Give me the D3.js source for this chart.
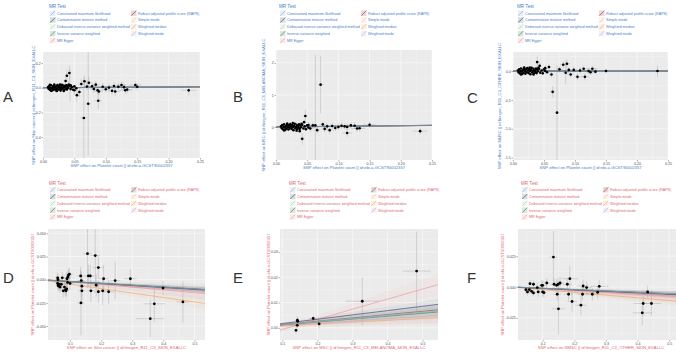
<!DOCTYPE html>
<html>
<head>
<meta charset="utf-8">
<script src="https://cdn.jsdelivr.net/npm/d3@7"></script>
<style>
  body { margin: 0; background: #fff; }
  svg { display: block; font-family: "Liberation Sans", Arial, sans-serif; }
</style>
</head>
<body>
<svg id="fig" width="676" height="354"></svg>
<script>
// MR methods shown in every legend (ggplot order, 2 columns)
const methods = [
  "Constrained maximum likelihood",
  "Contamination mixture method",
  "Debiased inverse-variance weighted method",
  "Inverse variance weighted",
  "MR Egger",
  "Robust adjusted profile score (RAPS)",
  "Simple mode",
  "Weighted median",
  "Weighted mode"
];
const methodColors = ["#7fa6cc", "#2d3b6b", "#a3d09c", "#2f7a4f", "#ef8c8f", "#8c2a2a", "#f6b89c", "#f2a05a", "#bba6d8"];

// dense SNP clusters (forward MR, platelet count -> skin cancers)
const clusterA = [[0.008,0.005],[0.009,-0.008],[0.010,0.014],[0.011,-0.017],[0.012,0.002],[0.013,0.020],[0.014,-0.005],[0.015,-0.021],[0.016,0.009],[0.017,-0.012],[0.018,0.017],[0.019,0.000],[0.020,-0.019],[0.021,0.012],[0.022,-0.008],[0.023,0.022],[0.024,0.004],[0.025,-0.015],[0.026,0.015],[0.027,-0.003],[0.028,-0.023],[0.029,0.008],[0.030,0.023],[0.031,-0.011],[0.032,0.001],[0.033,0.017],[0.034,-0.018],[0.035,0.007],[0.036,-0.006],[0.037,0.019],[0.038,-0.014],[0.039,0.011],[0.040,-0.002],[0.042,0.016],[0.044,-0.011],[0.046,0.005],[0.048,-0.016],[0.050,0.012],[0.013,-0.025],[0.018,0.025],[0.027,0.026],[0.033,-0.026],[0.041,0.024],[0.011,0.024],[0.022,-0.027],[0.053,-0.004],[0.016,-0.001],[0.029,-0.009],[0.036,0.012],[0.044,0.020]];
const clusterB = [[0.008,0.02],[0.009,-0.03],[0.010,0.06],[0.011,-0.07],[0.012,0.01],[0.013,0.08],[0.014,-0.02],[0.015,-0.09],[0.016,0.04],[0.017,-0.05],[0.018,0.07],[0.019,0.00],[0.020,-0.08],[0.021,0.05],[0.022,-0.03],[0.023,0.09],[0.024,0.02],[0.025,-0.06],[0.026,0.06],[0.027,-0.01],[0.028,-0.10],[0.029,0.03],[0.030,0.10],[0.031,-0.04],[0.032,0.00],[0.033,0.07],[0.034,-0.07],[0.035,0.03],[0.036,-0.02],[0.037,0.08],[0.038,-0.06],[0.039,0.05],[0.040,-0.01],[0.042,0.07],[0.044,-0.05],[0.046,0.02],[0.048,-0.07],[0.050,0.05],[0.013,-0.11],[0.018,0.11],[0.027,0.12],[0.033,-0.12],[0.041,0.10],[0.045,0.15],[0.038,-0.13],[0.052,-0.02]];
const clusterC = [[0.008,0.01],[0.009,-0.02],[0.010,0.03],[0.011,-0.04],[0.012,0.00],[0.013,0.045],[0.014,-0.01],[0.015,-0.05],[0.016,0.02],[0.017,-0.03],[0.018,0.04],[0.019,0.00],[0.020,-0.045],[0.021,0.03],[0.022,-0.02],[0.023,0.05],[0.024,0.01],[0.025,-0.035],[0.026,0.035],[0.027,-0.005],[0.028,-0.055],[0.029,0.02],[0.030,0.055],[0.031,-0.025],[0.032,0.00],[0.033,0.04],[0.034,-0.04],[0.035,0.015],[0.036,-0.015],[0.037,0.045],[0.038,-0.035],[0.039,0.025],[0.040,-0.005],[0.042,0.04],[0.044,-0.03],[0.046,0.01],[0.048,-0.04],[0.050,0.03],[0.013,-0.06],[0.018,0.06],[0.027,0.06],[0.033,-0.06],[0.041,0.055],[0.052,0.0],[0.055,-0.02]];

// SNPs with visible error bars: [beta exposure, beta outcome, se exposure, se outcome]
const snpA = [[0.036,0.055,0.003,0.03],[0.038,0.097,0.003,0.05],[0.042,0.120,0.003,0.06],[0.041,0.024,0.003,0.03],[0.043,0.020,0.003,0.13],[0.050,-0.020,0.004,0.04],[0.054,-0.060,0.004,0.05],[0.058,-0.035,0.004,0.04],[0.061,0.030,0.005,0.04],[0.066,0.053,0.005,0.05],[0.065,-0.245,0.005,0.33],[0.070,0.010,0.005,0.03],[0.073,0.040,0.005,0.05],[0.072,-0.130,0.005,0.42],[0.078,0.012,0.006,0.03],[0.081,-0.010,0.006,0.03],[0.084,0.025,0.006,0.03],[0.087,-0.020,0.006,0.03],[0.089,-0.030,0.006,0.03],[0.088,-0.105,0.006,0.07],[0.095,0.008,0.007,0.03],[0.100,-0.012,0.007,0.03],[0.105,0.001,0.007,0.03],[0.110,-0.025,0.007,0.03],[0.113,0.014,0.008,0.03],[0.115,-0.030,0.008,0.04],[0.120,0.008,0.008,0.03],[0.125,0.022,0.008,0.03],[0.129,0.005,0.009,0.03],[0.131,-0.020,0.009,0.03],[0.134,-0.015,0.009,0.03],[0.147,0.022,0.010,0.03],[0.150,0.008,0.010,0.03],[0.232,-0.021,0.012,0.04]];
const snpB = [[0.047,0.34,0.004,0.20],[0.042,-0.37,0.004,0.18],[0.063,0.05,0.004,2.2],[0.0715,1.32,0.005,0.9],[0.052,0.06,0.004,0.10],[0.055,-0.05,0.004,0.10],[0.059,0.05,0.005,0.10],[0.066,-0.10,0.005,0.10],[0.075,0.08,0.005,0.10],[0.078,-0.06,0.005,0.10],[0.082,0.02,0.006,0.10],[0.086,-0.10,0.006,0.10],[0.090,0.03,0.006,0.10],[0.095,-0.03,0.006,0.10],[0.100,0.00,0.007,0.10],[0.105,0.04,0.007,0.10],[0.110,0.02,0.007,0.10],[0.114,0.00,0.008,0.10],[0.114,-0.19,0.008,0.12],[0.120,0.05,0.008,0.10],[0.126,0.04,0.008,0.10],[0.130,-0.05,0.009,0.10],[0.134,-0.04,0.009,0.10],[0.150,0.07,0.010,0.10],[0.231,-0.13,0.012,0.10]];
const snpC = [[0.039,0.155,0.003,0.10],[0.043,0.09,0.003,0.06],[0.052,0.05,0.004,0.05],[0.058,0.07,0.004,0.05],[0.062,-0.06,0.004,0.05],[0.064,-0.36,0.004,0.10],[0.071,-0.72,0.004,0.82],[0.075,0.03,0.005,0.05],[0.081,0.11,0.005,0.06],[0.085,-0.03,0.005,0.20],[0.087,0.126,0.005,0.08],[0.090,0.02,0.005,0.05],[0.093,-0.06,0.006,0.05],[0.098,0.02,0.006,0.05],[0.104,-0.10,0.006,0.06],[0.108,0.01,0.006,0.05],[0.114,0.04,0.007,0.05],[0.116,-0.10,0.007,0.06],[0.122,0.00,0.007,0.05],[0.125,-0.02,0.007,0.05],[0.128,0.04,0.008,0.05],[0.133,-0.01,0.008,0.05],[0.150,0.00,0.010,0.04],[0.233,0.00,0.010,0.10]];
// reverse MR: skin cancers -> platelet count
const snpD = [[0.060,0.002,0.008,0.006],[0.061,0.000,0.008,0.006],[0.060,-0.004,0.007,0.006],[0.062,-0.006,0.008,0.006],[0.064,-0.007,0.008,0.006],[0.066,-0.005,0.008,0.006],[0.068,-0.008,0.008,0.006],[0.072,-0.005,0.009,0.006],[0.075,0.002,0.009,0.006],[0.078,-0.012,0.009,0.007],[0.082,-0.008,0.009,0.007],[0.085,-0.011,0.010,0.007],[0.087,-0.012,0.010,0.007],[0.089,-0.010,0.010,0.007],[0.090,0.001,0.010,0.007],[0.092,-0.003,0.010,0.007],[0.093,0.003,0.010,0.007],[0.095,0.005,0.010,0.007],[0.098,0.006,0.011,0.007],[0.100,-0.004,0.011,0.007],[0.134,0.004,0.012,0.010],[0.136,-0.001,0.012,0.010],[0.138,-0.007,0.012,0.012],[0.138,-0.012,0.012,0.012],[0.135,-0.025,0.012,0.035],[0.156,0.028,0.014,0.037],[0.159,0.004,0.013,0.012],[0.165,0.004,0.013,0.012],[0.167,-0.012,0.013,0.012],[0.181,0.026,0.015,0.030],[0.184,-0.006,0.014,0.012],[0.191,0.013,0.018,0.012],[0.191,-0.013,0.015,0.012],[0.205,-0.012,0.016,0.015],[0.208,0.001,0.016,0.015],[0.224,-0.013,0.016,0.013],[0.245,-0.001,0.016,0.020],[0.294,0.001,0.020,0.010],[0.358,-0.042,0.045,0.020],[0.371,-0.026,0.035,0.020],[0.399,-0.009,0.025,0.008],[0.463,-0.024,0.020,0.022]];
const snpE = [[0.139,-0.001,0.003,0.0012],[0.1425,0.001,0.003,0.0015],[0.143,0.003,0.004,0.0015],[0.144,0.0026,0.004,0.0018],[0.188,0.0037,0.010,0.0012],[0.205,0.0016,0.004,0.0018],[0.328,0.0105,0.047,0.0095],[0.483,0.0224,0.040,0.0155]];
const snpF = [[0.047,-0.0022,0.006,0.003],[0.052,-0.0040,0.006,0.003],[0.058,-0.0022,0.006,0.003],[0.060,0.0027,0.007,0.003],[0.065,-0.0035,0.007,0.003],[0.071,0.0022,0.007,0.003],[0.071,-0.0048,0.007,0.003],[0.083,-0.0005,0.008,0.004],[0.086,-0.0040,0.008,0.004],[0.097,0.0013,0.008,0.004],[0.100,0.0013,0.009,0.004],[0.100,-0.0040,0.009,0.004],[0.104,-0.0046,0.009,0.004],[0.113,0.0032,0.010,0.004],[0.134,0.0242,0.012,0.021],[0.136,0.0022,0.012,0.005],[0.144,0.0013,0.012,0.005],[0.146,-0.0059,0.012,0.005],[0.149,0.0022,0.012,0.005],[0.150,-0.0177,0.020,0.021],[0.155,0.0032,0.012,0.005],[0.178,0.0022,0.014,0.005],[0.182,-0.0059,0.014,0.005],[0.186,0.0067,0.025,0.010],[0.193,-0.0118,0.015,0.008],[0.221,-0.0148,0.018,0.008],[0.226,-0.0059,0.018,0.005],[0.228,0.0008,0.018,0.005],[0.239,-0.0005,0.018,0.005],[0.257,-0.0059,0.020,0.005],[0.274,-0.0043,0.020,0.005],[0.279,0.0005,0.030,0.005],[0.415,-0.0210,0.030,0.010],[0.418,-0.0134,0.030,0.010],[0.432,-0.0040,0.020,0.005],[0.444,-0.0134,0.030,0.010]];

// causal estimates per method (same order as methods), MR Egger also has an intercept
const slopesA = [0.030, 0.028, 0.031, 0.030, 0.036, 0.032, 0.022, 0.026, 0.024];
const slopesB = [0.20, 0.19, 0.21, 0.20, 0.22, 0.21, 0.18, 0.19, 0.18];
const slopesC = [0.002, 0.000, 0.003, 0.002, 0.010, 0.002, -0.010, -0.005, -0.008];
const slopesD = [-0.020, -0.021, -0.021, -0.020, -0.030, -0.020, -0.026, -0.048, -0.024];
const slopesE = [0.012, 0.017, 0.0125, 0.0115, 0.0398, 0.013, 0.008, 0.0074, 0.009];
const slopesF = [-0.011, -0.012, -0.011, -0.011, -0.015, -0.011, -0.017, -0.022, -0.016];
const eggerIntercepts = [-0.0006, -0.002, 0.0, 0.001, -0.0046, 0.0003];
const slopeSeA = [0.002, 0.002, 0.002, 0.002, 0.004, 0.002, 0.005, 0.004, 0.005];
const slopeSeB = [0.01, 0.01, 0.01, 0.01, 0.02, 0.01, 0.03, 0.02, 0.03];
const slopeSeC = [0.004, 0.004, 0.004, 0.004, 0.008, 0.004, 0.01, 0.008, 0.01];
const slopeSeD = [0.003, 0.003, 0.003, 0.003, 0.006, 0.003, 0.008, 0.006, 0.008];
const slopeSeE = [0.003, 0.002, 0.002, 0.002, 0.004, 0.002, 0.003, 0.002, 0.003];
const slopeSeF = [0.002, 0.002, 0.002, 0.002, 0.004, 0.002, 0.005, 0.004, 0.005];

// axis ticks
const ticksXForward = [0, 0.05, 0.10, 0.15, 0.20, 0.25];
const ticksXReverse = [0.1, 0.2, 0.3, 0.4, 0.5];
const ticksYA = [-0.4, -0.2, 0.0, 0.2];
const ticksYB = [0, 1, 2];
const ticksYC = [-1.5, -1.0, -0.5, 0.0];
const ticksYD = [-0.050, -0.025, 0.000, 0.025, 0.050];
const ticksYE = [0.00, 0.01, 0.02, 0.03];
const ticksYF = [-0.025, 0.000, 0.025];

const titlePlt = "SNP effect on Platelet count || id:ebi-a-GCST90002357";
const titleSkin = "SNP effect on Skin cancer || id:finngen_R11_C3_SKIN_EXALLC";
const titleMsc = "SNP effect on MSC || id:finngen_R11_C3_MELANOMA_SKIN_EXALLC";
const titleNmsc = "SNP effect on NMSC || id:finngen_R11_C3_OTHER_SKIN_EXALLC";

const blueText = "#4a7bc8";
const redText = "#e2676f";

const svg = d3.select("#fig");

function drawPanel(p, idx) {
  const x = d3.scaleLinear().domain(p.xDomain).range([p.left, p.right]);
  const y = d3.scaleLinear().domain(p.yDomain).range([p.bottom, p.top]);
  const g = svg.append("g");

  // panel letter
  svg.append("text").attr("x", p.letterX).attr("y", p.letterY)
    .attr("font-size", 15).attr("fill", "#333").text(p.letter);

  // legend
  const lg = g.append("g");
  lg.append("text").attr("x", p.legX - 1).attr("y", p.legY)
    .attr("font-size", 4.6).attr("fill", p.color).text("MR Test");
  methods.forEach((m, i) => {
    const col = i < 5 ? 0 : 1, row = i % 5;
    const kx = p.legX + col * 81, ky = p.legY + 2.5 + row * 6.8;
    lg.append("rect").attr("x", kx).attr("y", ky).attr("width", 5.5).attr("height", 5.5)
      .attr("fill", methodColors[i]).attr("fill-opacity", 0.18);
    lg.append("line").attr("x1", kx + 0.3).attr("y1", ky + 5.2).attr("x2", kx + 5.2).attr("y2", ky + 0.3)
      .attr("stroke", methodColors[i]).attr("stroke-width", 0.6);
    lg.append("text").attr("x", kx + 7).attr("y", ky + 4.1)
      .attr("font-size", 3.7).attr("fill", p.color).text(m);
  });

  // background + grid
  g.append("rect").attr("x", p.left).attr("y", p.top)
    .attr("width", p.right - p.left).attr("height", p.bottom - p.top).attr("fill", "#ebebeb");
  const xt = p.xTicks, yt = p.yTicks;
  const minors = (t, dom) => {
    const step = t[1] - t[0];
    const out = [];
    for (let v = t[0] - step / 2; v <= dom[1]; v += step) if (v >= dom[0]) out.push(v);
    return out;
  };
  g.selectAll(null).data(minors(xt, p.xDomain)).join("line")
    .attr("x1", d => x(d)).attr("x2", d => x(d)).attr("y1", p.top).attr("y2", p.bottom)
    .attr("stroke", "#fff").attr("stroke-width", 0.25);
  g.selectAll(null).data(minors(yt, p.yDomain)).join("line")
    .attr("y1", d => y(d)).attr("y2", d => y(d)).attr("x1", p.left).attr("x2", p.right)
    .attr("stroke", "#fff").attr("stroke-width", 0.25);
  g.selectAll(null).data(xt).join("line")
    .attr("x1", d => x(d)).attr("x2", d => x(d)).attr("y1", p.top).attr("y2", p.bottom)
    .attr("stroke", "#fff").attr("stroke-width", 0.5);
  g.selectAll(null).data(yt).join("line")
    .attr("y1", d => y(d)).attr("y2", d => y(d)).attr("x1", p.left).attr("x2", p.right)
    .attr("stroke", "#fff").attr("stroke-width", 0.5);

  const clipId = "clip" + idx;
  svg.append("clipPath").attr("id", clipId).append("rect")
    .attr("x", p.left).attr("y", p.top).attr("width", p.right - p.left).attr("height", p.bottom - p.top);
  const inner = g.append("g").attr("clip-path", `url(#${clipId})`);

  // error bars
  inner.selectAll(null).data(p.snps).join("line")
    .attr("x1", d => x(d[0])).attr("x2", d => x(d[0]))
    .attr("y1", d => y(d[1] - d[3])).attr("y2", d => y(d[1] + d[3]))
    .attr("stroke", "#8c8c8c").attr("stroke-width", 0.3);
  inner.selectAll(null).data(p.snps).join("line")
    .attr("x1", d => x(d[0] - d[2])).attr("x2", d => x(d[0] + d[2]))
    .attr("y1", d => y(d[1])).attr("y2", d => y(d[1]))
    .attr("stroke", "#8c8c8c").attr("stroke-width", 0.3);

  // method lines with confidence bands (first methods end up on top)
  const xs = p.xDomain;
  const order = d3.range(methods.length).reverse();
  order.forEach(i => {
    const b = p.slopes[i];
    const a = i === 4 ? eggerIntercepts[idx] : 0;
    const se = p.slopeSe[i];
    const band = d3.area().x(d => x(d)).y0(d => y(a + (b - 1.96 * se) * d)).y1(d => y(a + (b + 1.96 * se) * d));
    inner.append("path").datum(xs).attr("d", band)
      .attr("fill", methodColors[i]).attr("fill-opacity", 0.06);
  });
  order.forEach(i => {
    const b = p.slopes[i];
    const a = i === 4 ? eggerIntercepts[idx] : 0;
    inner.append("line")
      .attr("x1", x(xs[0])).attr("y1", y(a + b * xs[0]))
      .attr("x2", x(xs[1])).attr("y2", y(a + b * xs[1]))
      .attr("stroke", methodColors[i]).attr("stroke-width", 0.6);
  });

  // points
  const pts = p.cluster.concat(p.snps.map(d => [d[0], d[1]]));
  inner.selectAll(null).data(pts).join("circle")
    .attr("cx", d => x(d[0])).attr("cy", d => y(d[1])).attr("r", p.r).attr("fill", "#000");

  // axes
  const ax = g.append("g").attr("transform", `translate(0,${p.bottom})`)
    .call(d3.axisBottom(x).tickValues(xt).tickFormat(p.xFmt).tickSize(1.5).tickPadding(0.8));
  const ay = g.append("g").attr("transform", `translate(${p.left},0)`)
    .call(d3.axisLeft(y).tickValues(yt).tickFormat(p.yFmt).tickSize(1.5).tickPadding(0.8));
  [ax, ay].forEach(a => {
    a.select(".domain").remove();
    a.selectAll("line").attr("stroke", "#333").attr("stroke-width", 0.4);
    a.selectAll("text").attr("font-size", 3.6).attr("fill", "#4d4d4d").attr("font-family", null);
  });

  // axis titles
  g.append("text").attr("x", (p.left + p.right) / 2)
    .attr("y", p.bottom + 9).attr("text-anchor", "middle")
    .attr("font-size", 4.2).attr("fill", p.color).text(p.xTitle);
  g.append("text").attr("transform", `translate(${p.yTitleX},${(p.top + p.bottom) / 2}) rotate(-90)`)
    .attr("text-anchor", "middle").attr("font-size", 4.2).attr("fill", p.color).text(p.yTitle);
}

const f2 = d3.format(".2f"), f1 = d3.format(".1f"), f3 = d3.format(".3f"), f0 = d3.format("d");
const minus = f => v => f(v).replace("−", "-");

const panels = [
  { letter: "A", letterX: 3, letterY: 102, left: 43, right: 200, top: 52, bottom: 158,
    xDomain: [0, 0.25], yDomain: [-0.57, 0.29], xTicks: ticksXForward, yTicks: ticksYA,
    xFmt: f2, yFmt: minus(f1), snps: snpA, cluster: clusterA, slopes: slopesA, slopeSe: slopeSeA, r: 1.3,
    xTitle: titlePlt, yTitle: titleSkin, yTitleX: 34.5, legX: 50, legY: 8, color: blueText },
  { letter: "B", letterX: 233, letterY: 102, left: 276, right: 432, top: 50, bottom: 160,
    xDomain: [0, 0.25], yDomain: [-1.03, 2.4], xTicks: ticksXForward, yTicks: ticksYB,
    xFmt: f2, yFmt: f0, snps: snpB, cluster: clusterB, slopes: slopesB, slopeSe: slopeSeB, r: 1.3,
    xTitle: titlePlt, yTitle: titleMsc, yTitleX: 264.5, legX: 280, legY: 8, color: blueText },
  { letter: "C", letterX: 467, letterY: 103, left: 513, right: 668, top: 52, bottom: 160,
    xDomain: [0, 0.25], yDomain: [-1.54, 0.33], xTicks: ticksXForward, yTicks: ticksYC,
    xFmt: f2, yFmt: minus(f1), snps: snpC, cluster: clusterC, slopes: slopesC, slopeSe: slopeSeC, r: 1.3,
    xTitle: titlePlt, yTitle: titleNmsc, yTitleX: 500.5, legX: 518, legY: 8, color: blueText },
  { letter: "D", letterX: 3, letterY: 283, left: 48, right: 205, top: 229, bottom: 340,
    xDomain: [0.029, 0.534], yDomain: [-0.065, 0.0546], xTicks: ticksXReverse, yTicks: ticksYD,
    xFmt: f1, yFmt: minus(f3), snps: snpD, cluster: [], slopes: slopesD, slopeSe: slopeSeD, r: 1.4,
    xTitle: titleSkin, yTitle: titlePlt, yTitleX: 33.5, legX: 50, legY: 184.5, color: redText },
  { letter: "E", letterX: 233, letterY: 283, left: 280, right: 438, top: 229, bottom: 340,
    xDomain: [0.0934, 0.544], yDomain: [-0.0048, 0.039], xTicks: ticksXReverse, yTicks: ticksYE,
    xFmt: f1, yFmt: f2, snps: snpE, cluster: [], slopes: slopesE, slopeSe: slopeSeE, r: 1.4,
    xTitle: titleMsc, yTitle: titlePlt, yTitleX: 269.5, legX: 290, legY: 184.5, color: redText },
  { letter: "F", letterX: 467, letterY: 283, left: 518, right: 684, top: 229, bottom: 340,
    xDomain: [0.022, 0.547], yDomain: [-0.043, 0.047], xTicks: ticksXReverse, yTicks: ticksYF,
    xFmt: f1, yFmt: minus(f3), snps: snpF, cluster: [], slopes: slopesF, slopeSe: slopeSeF, r: 1.4,
    xTitle: titleNmsc, yTitle: titlePlt, yTitleX: 503.5, legX: 522, legY: 184.5, color: redText }
];

panels.forEach((p, i) => drawPanel(p, i));
</script>
</body>
</html>
